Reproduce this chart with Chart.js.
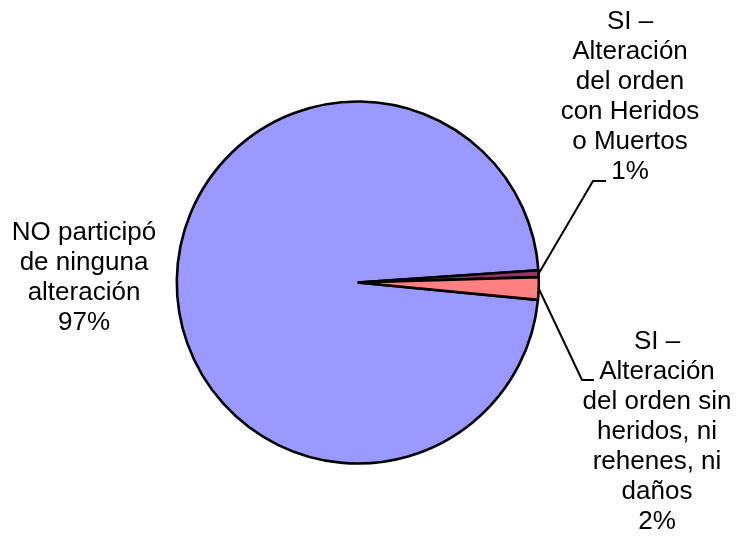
<!DOCTYPE html>
<html>
<head>
<meta charset="utf-8">
<script src="https://cdn.jsdelivr.net/npm/chart.js@4/dist/chart.umd.min.js"></script>
<style>
  html, body { margin: 0; padding: 0; background: #fff; }
</style>
</head>
<body>
<canvas id="pie" width="745" height="540"></canvas>
<script>
// Slice categories, values (%) and the labels shown next to each slice
const categories = [
  "NO participó de ninguna alteración",
  "SI – Alteración del orden con Heridos o Muertos",
  "SI – Alteración del orden sin heridos, ni rehenes, ni daños"
];
const values = [97.4, 0.6, 2.0];
const labelLines = [
  ["NO participó", "de ninguna", "alteración", "97%"],
  ["SI –", "Alteración", "del orden", "con Heridos", "o Muertos", "1%"],
  ["SI –", "Alteración", "del orden sin", "heridos, ni", "rehenes, ni", "daños", "2%"]
];
const colors = ["#9999FF", "#993366", "#FF8080"];

// where each label block sits (center x, first line y) and its leader elbow
const labelLayout = [
  { x: 84, y: 233, leader: null },
  { x: 630, y: 22, leader: { elbow: [593, 181], end: [606, 181] } },
  { x: 657, y: 342, leader: { elbow: [582, 380], end: [594, 380] } }
];

const outsideLabels = {
  id: "outsideLabels",
  afterDraw(chart) {
    const ctx = chart.ctx;
    const arcs = chart.getDatasetMeta(0).data;
    ctx.save();
    ctx.fillStyle = "#000";
    ctx.strokeStyle = "#000";
    ctx.lineWidth = 2;
    ctx.font = "26px 'Liberation Sans', Arial, sans-serif";
    ctx.textAlign = "center";
    ctx.textBaseline = "middle";
    labelLines.forEach((lines, i) => {
      const lay = labelLayout[i];
      lines.forEach((t, k) => ctx.fillText(t, lay.x, lay.y + k * 30));
      if (lay.leader) {
        const a = arcs[i].getProps(["x", "y", "startAngle", "endAngle", "outerRadius"], true);
        const mid = (a.startAngle + a.endAngle) / 2;
        ctx.beginPath();
        ctx.moveTo(a.x + Math.cos(mid) * a.outerRadius, a.y + Math.sin(mid) * a.outerRadius);
        ctx.lineTo(lay.leader.elbow[0], lay.leader.elbow[1]);
        ctx.lineTo(lay.leader.end[0], lay.leader.end[1]);
        ctx.stroke();
      }
    });
    ctx.restore();
  }
};

new Chart(document.getElementById("pie").getContext("2d"), {
  type: "pie",
  data: {
    labels: categories,
    datasets: [{
      data: values,
      backgroundColor: colors,
      borderColor: "#000",
      borderWidth: 2.6
    }]
  },
  options: {
    responsive: false,
    animation: false,
    rotation: 95.5,
    layout: {
      padding: { left: 175.5, right: 204.9, top: 100.2, bottom: 75.2 }
    },
    plugins: {
      legend: { display: false },
      tooltip: { enabled: false }
    }
  },
  plugins: [outsideLabels]
});
</script>
</body>
</html>
